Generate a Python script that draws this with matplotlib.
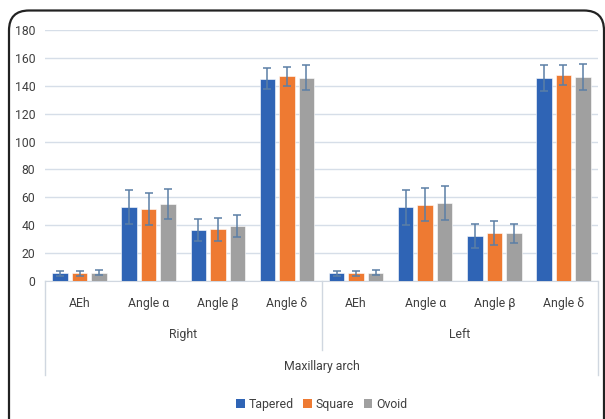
import numpy as np
import matplotlib
matplotlib.use("Agg")
import matplotlib.pyplot as plt
from matplotlib.patches import FancyBboxPatch, Patch
from matplotlib.lines import Line2D

# ---- data ----
categories = ["AEh", "Angle α", "Angle β", "Angle δ", "AEh", "Angle α", "Angle β", "Angle δ"]
sides = ["Right", "Left"]
group_title = "Maxillary arch"
series = ["Tapered", "Square", "Ovoid"]

tapered = [5.5, 53.0, 36.6, 145.2, 5.5, 52.8, 32.3, 145.6]
square = [5.5, 51.5, 37.0, 146.8, 5.5, 54.7, 34.6, 147.8]
ovoid = [6.0, 55.5, 39.5, 145.9, 6.0, 55.7, 34.2, 146.3]

tapered_sd = [2.0, 12.0, 8.0, 7.8, 2.0, 12.8, 8.5, 9.2]
square_sd = [2.0, 11.5, 8.3, 7.0, 2.0, 12.0, 8.6, 7.3]
ovoid_sd = [2.0, 10.8, 7.8, 9.2, 2.0, 12.2, 7.0, 9.5]

colors = ["#2F64B5", "#EE7A32", "#A0A0A0"]
err_color = "#5B7FA6"

plt.rcParams['font.family'] = ['Liberation Sans Narrow', 'Roboto', 'DejaVu Sans']
FS = 8.8
TXT = "#404040"

W, H = 605, 419
fig = plt.figure(figsize=(W / 100, H / 100), dpi=100)

# rounded outer frame, runs off the right and bottom edges like the original
frame = FancyBboxPatch((0.09, -0.6), 5.95, 4.685, boxstyle="round,pad=0,rounding_size=0.2",
                       transform=fig.dpi_scale_trans, facecolor="white", edgecolor="#222222",
                       linewidth=1.6, zorder=-10)
fig.patches.append(frame)

x0, x1, y0, y1 = 45, 598, 30, 281
ax = fig.add_axes([x0 / W, 1 - y1 / H, (x1 - x0) / W, (y1 - y0) / H], zorder=5)
ax.patch.set_alpha(0)

x = np.arange(len(categories))
width = 0.225
step = 0.282
for i, (vals, sd) in enumerate(zip([tapered, square, ovoid], [tapered_sd, square_sd, ovoid_sd])):
    ax.bar(x + (i - 1) * step, vals, width, color=colors[i], edgecolor="white", linewidth=0.4,
           yerr=sd, error_kw=dict(ecolor=err_color, elinewidth=1.1, capsize=3, capthick=1.1), zorder=3)

ax.set_xlim(-0.5, len(categories) - 0.5)
ax.set_ylim(0, 180)
ax.set_yticks(np.arange(0, 181, 20))
ax.yaxis.grid(True, color="#D6DEE8", linewidth=1.0, zorder=0)
ax.set_axisbelow(True)
for s in ["top", "right", "left"]:
    ax.spines[s].set_visible(False)
ax.spines["bottom"].set_color("#D0D7E0")
ax.tick_params(axis="y", length=0, labelsize=FS, colors=TXT, pad=7)
ax.set_xticks([])

# multi-level category axis
def fy(py):
    return 1 - py / H

def fx(px):
    return px / W

for i, c in enumerate(categories):
    px = x0 + (i + 0.5) * (x1 - x0) / len(categories)
    fig.text(fx(px), fy(303), c, ha="center", va="center", fontsize=FS, color=TXT)
mid = (x0 + x1) / 2
for j, s in enumerate(sides):
    px = x0 + (j + 0.5) * (x1 - x0) / 2
    fig.text(fx(px), fy(334), s, ha="center", va="center", fontsize=FS, color=TXT)
fig.text(fx(mid), fy(366), group_title, ha="center", va="center", fontsize=FS, color=TXT)

sep = "#D0D7E0"
fig.add_artist(Line2D([fx(x0), fx(x0)], [fy(281), fy(375)], color=sep, linewidth=1))
fig.add_artist(Line2D([fx(x1), fx(x1)], [fy(281), fy(375)], color=sep, linewidth=1))
fig.add_artist(Line2D([fx(mid), fx(mid)], [fy(281), fy(350)], color=sep, linewidth=1))

handles = [Patch(facecolor=colors[i], label=series[i]) for i in range(3)]
fig.legend(handles=handles, loc="center", bbox_to_anchor=(fx(mid), fy(404)), ncol=3, frameon=False,
           fontsize=FS, handlelength=0.7, handleheight=0.7, handletextpad=0.3, columnspacing=0.8,
           labelcolor=TXT)

fig.savefig("out.png", dpi=100)
